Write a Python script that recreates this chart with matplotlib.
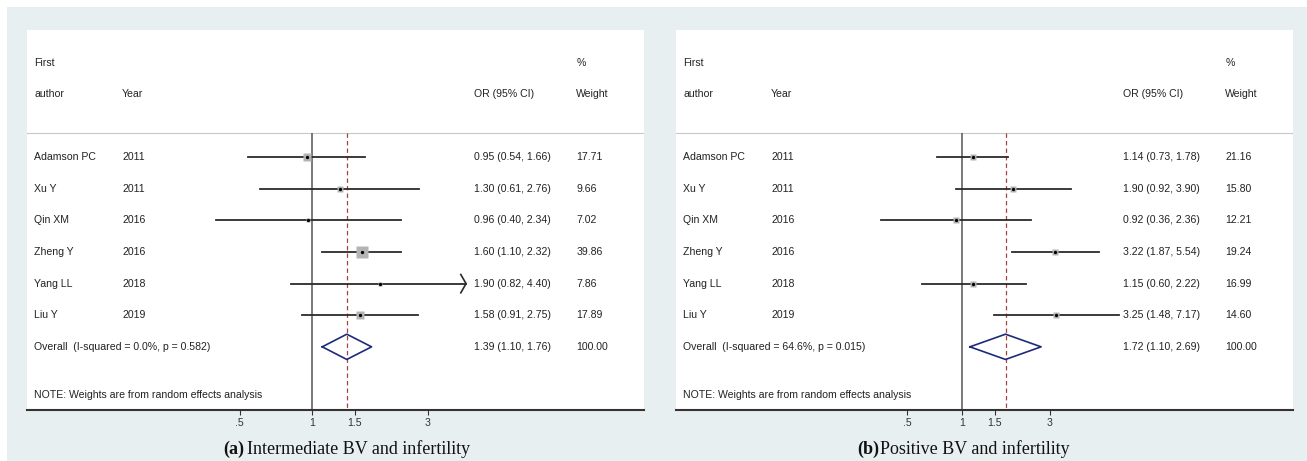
import numpy as np
import matplotlib
matplotlib.use('Agg')
import matplotlib.pyplot as plt
from matplotlib.patches import Rectangle
from matplotlib.ticker import FixedLocator, FixedFormatter, NullLocator

authors = ['Adamson PC', 'Xu Y', 'Qin XM', 'Zheng Y', 'Yang LL', 'Liu Y']
years = ['2011', '2011', '2016', '2016', '2018', '2019']

# (a) intermediate BV and infertility
a_or = [0.95, 1.30, 0.96, 1.60, 1.90, 1.58]
a_lo = [0.54, 0.61, 0.40, 1.10, 0.82, 0.91]
a_hi = [1.66, 2.76, 2.34, 2.32, 4.40, 2.75]
a_weight = [17.71, 9.66, 7.02, 39.86, 7.86, 17.89]
a_pooled = [1.39, 1.10, 1.76]
a_overall = 'Overall  (I-squared = 0.0%, p = 0.582)'

# (b) positive BV and infertility
b_or = [1.14, 1.90, 0.92, 3.22, 1.15, 3.25]
b_lo = [0.73, 0.92, 0.36, 1.87, 0.60, 1.48]
b_hi = [1.78, 3.90, 2.36, 5.54, 2.22, 7.17]
b_weight = [21.16, 15.80, 12.21, 19.24, 16.99, 14.60]
b_pooled = [1.72, 1.10, 2.69]
b_overall = 'Overall  (I-squared = 64.6%, p = 0.015)'

tick_vals = [0.5, 1, 1.5, 3]
tick_labels = ['.5', '1', '1.5', '3']
note = 'NOTE: Weights are from random effects analysis'

plt.rcParams['font.family'] = ['Liberation Sans', 'DejaVu Sans']

W, H = 1307, 461
FS = 7.6
HEADER_Y = -0.785
Y_TOP, Y_BOTTOM = -4.03, 8.0
COLS = [0.012, 0.154, 0.725, 0.890]


def px_rect(x, y, w, h):
    return [x / W, (H - y - h) / H, w / W, h / H]


def draw_panel(ax, ors, los, his, weights, pooled, overall, xlim, msize, clip=None):
    ax.set_xscale('log')
    ax.set_xlim(*xlim)
    ax.set_ylim(Y_BOTTOM, Y_TOP)
    ax.set_facecolor('white')
    for s in ['left', 'right', 'top']:
        ax.spines[s].set_visible(False)
    ax.spines['bottom'].set_color('#333333')
    ax.spines['bottom'].set_linewidth(1.5)
    ax.set_yticks([])
    ax.xaxis.set_major_locator(FixedLocator(tick_vals))
    ax.xaxis.set_major_formatter(FixedFormatter(tick_labels))
    ax.xaxis.set_minor_locator(NullLocator())
    ax.tick_params(axis='x', direction='out', length=3.6, width=0.8,
                   color='#333333', labelsize=FS, labelcolor='#333333', pad=2)

    tr = ax.get_yaxis_transform()
    txt = dict(transform=tr, fontsize=FS, va='center', ha='left', color='#222222')
    ax.text(COLS[0], -3, 'First', **txt)
    ax.text(COLS[3], -3, '%', **txt)
    ax.text(COLS[0], -2, 'author', **txt)
    ax.text(COLS[1], -2, 'Year', **txt)
    ax.text(COLS[2], -2, 'OR (95% CI)', **txt)
    ax.text(COLS[3], -2, 'Weight', **txt)
    ax.axhline(HEADER_Y, color='#c8c8c8', lw=0.8)

    ax.vlines(1, HEADER_Y, Y_BOTTOM, color='#555555', lw=1.1)
    ax.vlines(pooled[0], HEADER_Y, Y_BOTTOM, color='#a84040', lw=0.9,
              linestyles=(0, (3.5, 2.5)))

    for i in range(len(ors)):
        hi = his[i]
        if clip is not None and hi > clip:
            hi = clip
            ax.plot([clip * np.exp(-0.05), clip, clip * np.exp(-0.05)],
                    [i - 0.29, i, i + 0.29], color='#2b2b2b', lw=1.2)
        ax.plot([los[i], hi], [i, i], color='#2b2b2b', lw=1.3, zorder=2)
        ax.plot(ors[i], i, marker='s', ms=msize * np.sqrt(weights[i]),
                color='#b4b4b4', mec='none', zorder=3)
        ax.plot(ors[i], i, marker='o', ms=2.4, color='black', mec='none', zorder=4)
        ax.text(COLS[0], i, authors[i], **txt)
        ax.text(COLS[1], i, years[i], **txt)
        ax.text(COLS[2], i, '%.2f (%.2f, %.2f)' % (ors[i], los[i], his[i]), **txt)
        ax.text(COLS[3], i, '%.2f' % weights[i], **txt)

    yo = len(ors)
    est, lo, hi = pooled
    ax.plot([lo, est, hi, est, lo], [yo, yo - 0.4, yo, yo + 0.4, yo],
            color='#1f2a7a', lw=1.2, zorder=5)
    ax.text(COLS[0], yo, overall, **txt)
    ax.text(COLS[2], yo, '%.2f (%.2f, %.2f)' % (est, lo, hi), **txt)
    ax.text(COLS[3], yo, '%.2f' % sum(weights), **txt)
    ax.text(COLS[0], 7.54, note, **txt)


fig = plt.figure(figsize=(W / 100, H / 100), dpi=100, facecolor='white')
fig.patches.append(Rectangle((7 / W, 0), 1, 1 - 7 / H, transform=fig.transFigure,
                             facecolor='#e8eff1', edgecolor='none', zorder=-10))

ax1 = fig.add_axes(px_rect(27, 30, 617, 380))
draw_panel(ax1, a_or, a_lo, a_hi, a_weight, a_pooled, a_overall,
           (0.066, 23.6), 1.26, clip=4.33)
ax2 = fig.add_axes(px_rect(676, 30, 617, 380))
draw_panel(ax2, b_or, b_lo, b_hi, b_weight, b_pooled, b_overall,
           (0.0274, 63.7), 1.05)

cap_y = (H - 454) / H
cap = dict(fontsize=13, family='Liberation Serif', va='baseline', color='#111111')
fig.text(244 / W, cap_y, '(a)', ha='right', weight='bold', **cap)
fig.text(247 / W, cap_y, 'Intermediate BV and infertility', ha='left', **cap)
fig.text(879 / W, cap_y, '(b)', ha='right', weight='bold', **cap)
fig.text(880 / W, cap_y, 'Positive BV and infertility', ha='left', **cap)

fig.savefig('out.png', dpi=100)
